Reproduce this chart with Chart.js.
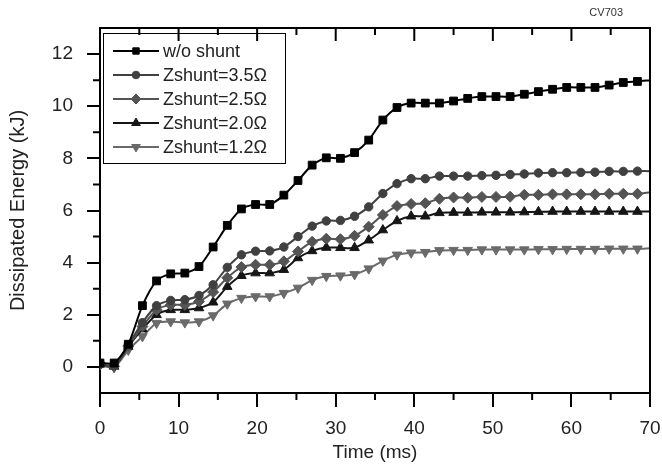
<!DOCTYPE html>
<html>
<head>
<meta charset="utf-8">
<script src="https://cdn.jsdelivr.net/npm/chart.js@4.4.1/dist/chart.umd.min.js"></script>
<style>
  html, body { margin: 0; padding: 0; background: #fff; }
</style>
</head>
<body>
<canvas id="chart" width="662" height="464"></canvas>
<script>
// time axis (ms); last entry is the end of the trace at the frame edge
const timeMs = [0, 1.8, 3.6, 5.4, 7.2, 9, 10.8, 12.6, 14.4, 16.2, 18, 19.8, 21.6, 23.4, 25.2, 27, 28.8, 30.6, 32.4,
  34.2, 36, 37.8, 39.6, 41.4, 43.2, 45, 46.8, 48.6, 50.4, 52.2, 54, 55.8, 57.6, 59.4, 61.2, 63, 64.8, 66.6, 68.4, 70];

// dissipated energy (kJ)
const noShunt = [0.15, 0.15, 0.87, 2.35, 3.3, 3.57, 3.6, 3.85, 4.6, 5.43, 6.06, 6.23, 6.23, 6.59, 7.15, 7.74, 8.02, 8.0, 8.22,
  8.7, 9.47, 9.95, 10.12, 10.12, 10.12, 10.2, 10.3, 10.37, 10.37, 10.37, 10.46, 10.56, 10.65, 10.72, 10.72, 10.72, 10.81, 10.91, 10.95, 11.0];
const shunt35 = [0.1, 0.05, 0.85, 1.7, 2.35, 2.55, 2.58, 2.74, 3.15, 3.82, 4.3, 4.44, 4.45, 4.6, 5.0, 5.4, 5.6, 5.62, 5.78,
  6.14, 6.65, 7.03, 7.22, 7.22, 7.32, 7.32, 7.32, 7.34, 7.35, 7.38, 7.4, 7.44, 7.45, 7.45, 7.46, 7.47, 7.5, 7.5, 7.51, 7.51];
const shunt25 = [0.1, 0.02, 0.8, 1.55, 2.19, 2.38, 2.38, 2.51, 2.87, 3.42, 3.83, 3.92, 3.92, 4.05, 4.43, 4.8, 4.92, 4.9, 5.03,
  5.38, 5.83, 6.17, 6.25, 6.28, 6.45, 6.5, 6.49, 6.52, 6.52, 6.53, 6.6, 6.6, 6.62, 6.62, 6.62, 6.62, 6.64, 6.64, 6.64, 6.7];
const shunt20 = [0.1, 0.02, 0.78, 1.45, 2.0, 2.19, 2.19, 2.26, 2.48, 3.08, 3.5, 3.6, 3.6, 3.73, 4.18, 4.45, 4.58, 4.57, 4.57,
  4.86, 5.25, 5.6, 5.78, 5.78, 5.91, 5.92, 5.92, 5.93, 5.93, 5.93, 5.94, 5.95, 5.96, 5.96, 5.96, 5.96, 5.96, 5.96, 5.96, 5.96];
const shunt12 = [0.08, -0.02, 0.65, 1.17, 1.68, 1.74, 1.7, 1.74, 1.97, 2.42, 2.64, 2.7, 2.7, 2.83, 3.03, 3.33, 3.48, 3.5, 3.55,
  3.77, 4.07, 4.3, 4.38, 4.4, 4.47, 4.48, 4.48, 4.5, 4.5, 4.5, 4.5, 4.51, 4.51, 4.52, 4.52, 4.52, 4.53, 4.53, 4.53, 4.55];

const seriesNames = ["w/o shunt", "Zshunt=3.5\u03A9", "Zshunt=2.5\u03A9", "Zshunt=2.0\u03A9", "Zshunt=1.2\u03A9"];

const xTicks = [0, 10, 20, 30, 40, 50, 60, 70];
const xMinorTicks = [5, 15, 25, 35, 45, 55, 65];
const yTicks = [0, 2, 4, 6, 8, 10, 12];
const yMinorTicks = [1, 3, 5, 7, 9, 11];

const FONT = "'Liberation Sans', Arial, sans-serif";
const lastIdx = timeMs.length - 1;

function toPoints(vals) {
  return vals.map((v, i) => ({ x: timeMs[i], y: v }));
}

function makeSet(label, vals, color, style, radius, rotation) {
  return {
    label: label,
    data: toPoints(vals),
    borderColor: color,
    backgroundColor: color,
    borderWidth: 2,
    pointStyle: style,
    pointRotation: rotation || 0,
    pointRadius: (ctx) => (ctx.dataIndex === lastIdx ? 0 : radius),
    pointBorderWidth: 1,
    pointBorderColor: color,
    pointBackgroundColor: color,
    tension: 0.25,
  };
}

//---------------------------------------------
// frame, minor ticks, legend, tag
//---------------------------------------------
const extras = {
  id: "extras",
  afterDraw(chart) {
    const ctx = chart.ctx;
    const a = chart.chartArea;
    const xs = chart.scales.x;
    const ys = chart.scales.y;
    ctx.save();
    ctx.strokeStyle = "#000";
    ctx.lineWidth = 2;
    // top + right frame
    ctx.beginPath();
    ctx.moveTo(a.left, a.top);
    ctx.lineTo(a.right, a.top);
    ctx.lineTo(a.right, a.bottom);
    ctx.stroke();

    ctx.beginPath();
    xMinorTicks.forEach((v) => {
      const px = xs.getPixelForValue(v);
      ctx.moveTo(px, a.bottom);
      ctx.lineTo(px, a.bottom + 7);
      ctx.moveTo(px, a.top);
      ctx.lineTo(px, a.top + 7);
    });
    xTicks.forEach((v) => {
      const px = xs.getPixelForValue(v);
      ctx.moveTo(px, a.top);
      ctx.lineTo(px, a.top + 13);
    });
    yMinorTicks.forEach((v) => {
      const py = ys.getPixelForValue(v);
      ctx.moveTo(a.left - 7, py);
      ctx.lineTo(a.left, py);
    });
    ctx.stroke();

    // legend
    const bx = 103, by = 33, bw = 182, bh = 130;
    ctx.lineWidth = 1;
    ctx.strokeStyle = "#000";
    ctx.strokeRect(bx + 0.5, by + 0.5, bw, bh);
    ctx.font = "18px " + FONT;
    ctx.textBaseline = "middle";
    chart.data.datasets.forEach((ds, i) => {
      const y = by + 18 + i * 24;
      ctx.strokeStyle = ds.borderColor;
      ctx.fillStyle = ds.backgroundColor;
      ctx.lineWidth = 2;
      ctx.beginPath();
      ctx.moveTo(bx + 10, y);
      ctx.lineTo(bx + 56, y);
      ctx.stroke();
      ctx.lineWidth = 1;
      Chart.helpers.drawPoint(ctx, {
        pointStyle: ds.pointStyle,
        rotation: ds.pointRotation,
        radius: ds.legendRadius,
        borderWidth: 1,
      }, bx + 33, y);
      ctx.fillStyle = "#222";
      ctx.fillText(ds.label, bx + 60, y + 1);
    });

    ctx.font = "11px " + FONT;
    ctx.fillStyle = "#333";
    ctx.textAlign = "right";
    ctx.fillText("CV703", 623, 13);
    ctx.restore();
  },
};

const sets = [
  makeSet(seriesNames[0], noShunt, "#000000", "rect", 5.5),
  makeSet(seriesNames[1], shunt35, "#404040", "circle", 4.2),
  makeSet(seriesNames[2], shunt25, "#545454", "rectRot", 5.5),
  makeSet(seriesNames[3], shunt20, "#161616", "triangle", 5.5),
  makeSet(seriesNames[4], shunt12, "#6a6a6a", "triangle", 5.5, 180),
];
sets[0].legendRadius = 4.5;
sets[1].legendRadius = 3.8;
sets[2].legendRadius = 5;
sets[3].legendRadius = 5;
sets[4].legendRadius = 5;

new Chart(document.getElementById("chart"), {
  type: "line",
  data: { datasets: sets },
  plugins: [extras],
  options: {
    responsive: false,
    animation: false,
    devicePixelRatio: 1,
    layout: { padding: { top: 28, right: 12, left: 0, bottom: 0 } },
    plugins: {
      legend: { display: false },
      tooltip: { enabled: false },
    },
    scales: {
      x: {
        type: "linear",
        min: 0,
        max: 70,
        afterBuildTicks: (s) => { s.ticks = xTicks.map((v) => ({ value: v })); },
        afterFit: (s) => { s.height = 71; s.paddingLeft = 0; s.paddingRight = 0; },
        grid: { drawOnChartArea: false, drawTicks: true, tickLength: 14, color: "#000", lineWidth: 2 },
        border: { display: true, color: "#000", width: 2 },
        ticks: { padding: 10, color: "#222", autoSkip: false, maxRotation: 0, font: { size: 19, family: FONT } },
        title: { display: true, text: "Time (ms)", color: "#222", padding: { top: 0, bottom: 0 }, font: { size: 19, family: FONT } },
      },
      y: {
        min: -1,
        max: 13,
        afterBuildTicks: (s) => { s.ticks = yTicks.map((v) => ({ value: v })); },
        afterFit: (s) => { s.width = 100; s.paddingTop = 0; s.paddingBottom = 0; },
        grid: { drawOnChartArea: false, drawTicks: true, tickLength: 13, color: "#000", lineWidth: 2 },
        border: { display: true, color: "#000", width: 2 },
        ticks: { padding: 14, color: "#222", font: { size: 19, family: FONT } },
        title: { display: true, text: "Dissipated Energy (kJ)", color: "#222", padding: { top: 6, bottom: 0 }, font: { size: 20, family: FONT } },
      },
    },
  },
});
</script>
</body>
</html>
